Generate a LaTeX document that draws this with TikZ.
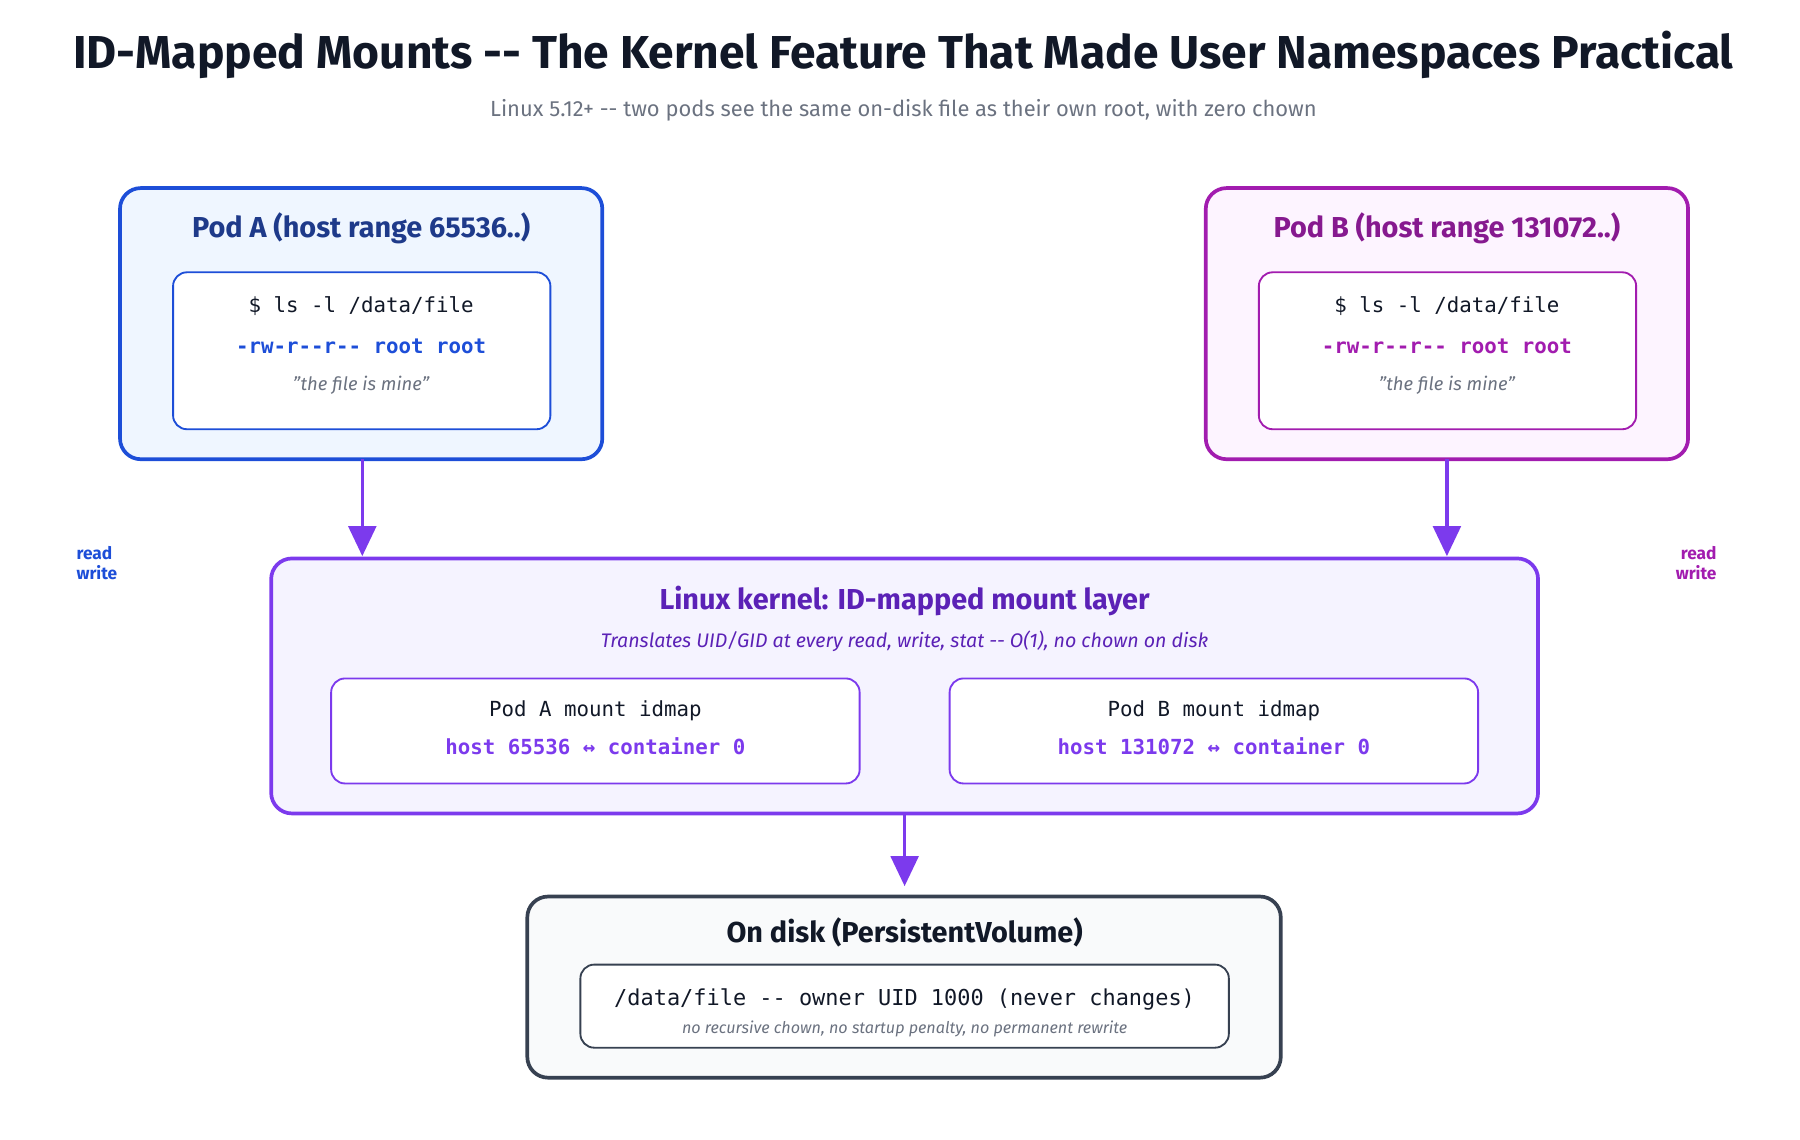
\documentclass[tikz,border=0pt]{standalone}
\usepackage{fontspec}
\setmainfont{Fira Sans}
\setmonofont{DejaVu Sans Mono}
\usetikzlibrary{arrows.meta}
\definecolor{ablue}{HTML}{1D4ED8}\definecolor{ablueF}{HTML}{EFF6FF}\definecolor{abluT}{HTML}{1E3A8A}
\definecolor{bpur}{HTML}{A21CAF}\definecolor{bpurF}{HTML}{FDF4FF}\definecolor{bpurT}{HTML}{86198F}
\definecolor{kv}{HTML}{7C3AED}\definecolor{kvF}{HTML}{F5F3FF}\definecolor{kvT}{HTML}{5B21B6}
\definecolor{dk}{HTML}{374151}\definecolor{dkF}{HTML}{F9FAFB}\definecolor{ink}{HTML}{111827}
\definecolor{gr}{HTML}{6B7280}
\newcommand{\dd}{{-}{-}}
\newcommand{\sq}{\symbol{34}}
\begin{document}
\begin{tikzpicture}[x=0.5pt,y=-0.5pt,
 outer/.style={rounded corners=9pt,line width=1.6pt},
 inner/.style={rounded corners=6pt,line width=0.8pt,fill=white},
 arr/.style={kv,line width=1.4pt,-{Triangle[length=13pt,width=12pt]}},
 ttl/.style={font=\bfseries\fontsize{12.5}{14}\selectfont},
 mono/.style={font=\ttfamily\fontsize{9}{11}\selectfont},
 monob/.style={font=\ttfamily\bfseries\fontsize{9}{11}\selectfont},
 note/.style={font=\itshape\fontsize{8}{10}\selectfont,text=gr},
 rw/.style={font=\bfseries\fontsize{7.5}{9}\selectfont,align=left}]
\useasboundingbox (0,0) rectangle (1560,988);
\node[font=\bfseries\fontsize{20}{24}\selectfont,text=ink] (title) at (783,48) {ID-Mapped Mounts \dd{} The Kernel Feature That Made User Namespaces Practical};
\node[font=\fontsize{9.5}{11}\selectfont,text=gr] (sub) at (783,96) {Linux 5.12+ \dd{} two pods see the same on-disk file as their own root, with zero chown};
% Pod A
\draw[outer,draw=ablue,fill=ablueF] (104,163) rectangle (522,398);
\node (podA) at (313,280.5) [minimum width=209pt,minimum height=117pt] {};
\node[ttl,text=abluT] (podAt) at (313,198) {Pod A (host range 65536..)};
\draw[inner,draw=ablue] (150,236) rectangle (477,372);
\node[mono,text=ink] (a1) at (313,265) {\$ ls -l /data/file};
\node[monob,text=ablue] (a2) at (313,300) {-rw-r--r-- root root};
\node[note] (a3) at (313,334) {\sq the file is mine\sq};
% Pod B
\draw[outer,draw=bpur,fill=bpurF] (1045,163) rectangle (1463,398);
\node (podB) at (1254,280.5) [minimum width=209pt,minimum height=117pt] {};
\node[ttl,text=bpurT] (podBt) at (1254,198) {Pod B (host range 131072..)};
\draw[inner,draw=bpur] (1091,236) rectangle (1418,372);
\node[mono,text=ink] (b1) at (1254,265) {\$ ls -l /data/file};
\node[monob,text=bpur] (b2) at (1254,300) {-rw-r--r-- root root};
\node[note] (b3) at (1254,334) {\sq the file is mine\sq};
% kernel
\draw[outer,draw=kv,fill=kvF] (235,484) rectangle (1333,705);
\node (kern) at (784,594.5) [minimum width=549pt,minimum height=110.5pt] {};
\node[ttl,text=kvT] (kt) at (784,521) {Linux kernel: ID-mapped mount layer};
\node[note,text=kvT,font=\itshape\fontsize{8.5}{10}\selectfont] (ks) at (784,556) {Translates UID/GID at every read, write, stat \dd{} O(1), no chown on disk};
\draw[inner,draw=kv] (287,588) rectangle (745,679);
\draw[inner,draw=kv] (823,588) rectangle (1281,679);
\node[mono,text=ink] (m1) at (516,616) {Pod A mount idmap};
\node[monob,text=kv] (m2) at (516,647) {host 65536 ↔ container 0};
\node[mono,text=ink] (m3) at (1052,616) {Pod B mount idmap};
\node[monob,text=kv] (m4) at (1052,647) {host 131072 ↔ container 0};
% disk
\draw[outer,draw=dk,fill=dkF] (457,777) rectangle (1110,934);
\node (disk) at (783.5,855.5) [minimum width=326.5pt,minimum height=78.5pt] {};
\node[ttl,text=ink] (dt) at (784,808) {On disk (PersistentVolume)};
\draw[inner,draw=dk] (503,836) rectangle (1065,908);
\node[mono,text=ink,font=\ttfamily\fontsize{9.5}{11}\selectfont] (d1) at (784,866) {/data/file -- owner UID 1000 (never changes)};
\node[note,font=\itshape\fontsize{7}{8}\selectfont] (d2) at (784,892) {no recursive chown, no startup penalty, no permanent rewrite};
% arrows
\coordinate (pa) at (314,398); \coordinate (ka) at (314,482);
\coordinate (pb) at (1254,398); \coordinate (kb) at (1254,482);
\coordinate (kc) at (784,705); \coordinate (dc) at (784,768);
\draw[arr] (pa) -- (ka);
\draw[arr] (pb) -- (kb);
\draw[arr] (kc) -- (dc);
\node[rw,text=ablue] (rwA) at (84,488) {read\\write};
\node[rw,text=bpur,align=right] (rwB) at (1470,488) {read\\write};
\end{tikzpicture}
\end{document}
